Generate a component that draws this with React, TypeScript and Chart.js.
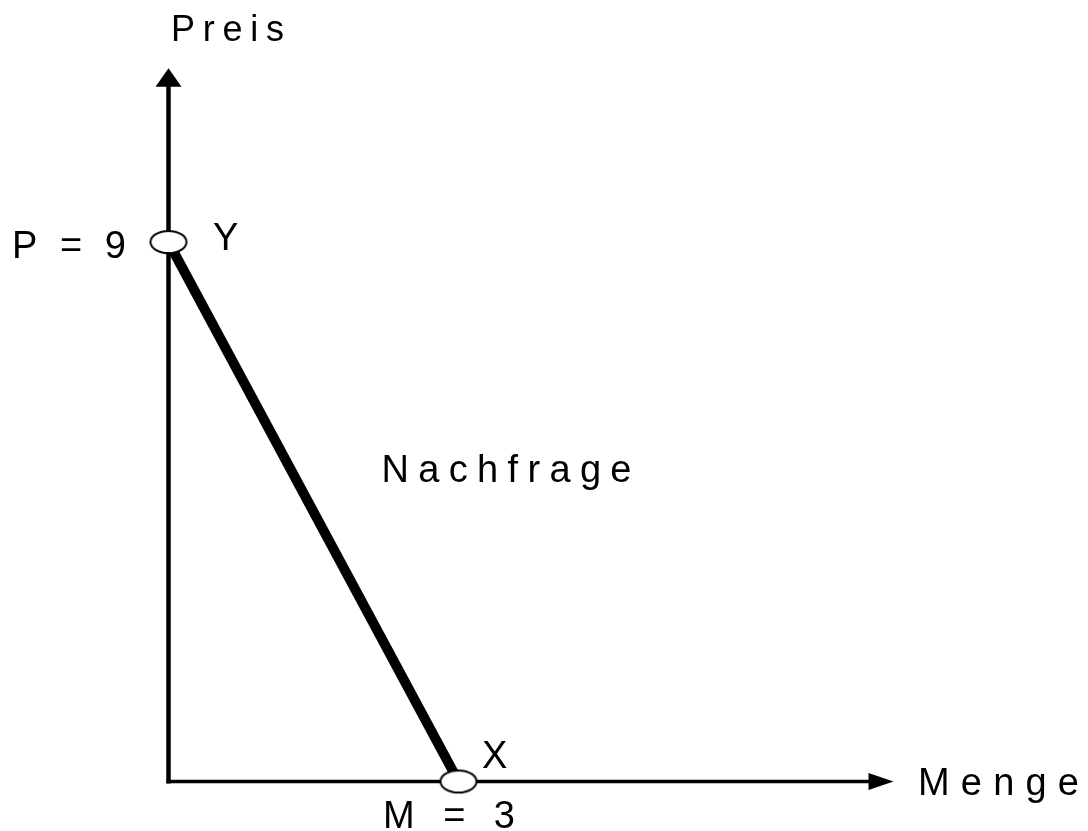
import React, { useEffect, useRef } from "react";
import { Chart, registerables } from "chart.js";

Chart.register(...registerables);

// Data: linear demand curve between two points
const quantities = [0, 3];
const prices = [9, 0];
const pointNames = ["Y", "X"];
const axisTitles = { x: "Menge", y: "Preis" };
const curveLabel = "Nachfrage";
const priceLabel = "P = 9";
const quantityLabel = "M = 3";

const X_MAX = 7.5;
const Y_MAX = 11.9;

function makeEllipse(): HTMLCanvasElement {
  const c = document.createElement("canvas");
  c.width = 40;
  c.height = 26;
  const g = c.getContext("2d")!;
  g.beginPath();
  g.ellipse(20, 13, 18, 11, 0, 0, Math.PI * 2);
  g.fillStyle = "#ffffff";
  g.fill();
  g.lineWidth = 2;
  g.strokeStyle = "#000000";
  g.stroke();
  return c;
}

function fitText(ctx: CanvasRenderingContext2D, text: string, x: number, y: number, width: number) {
  (ctx as any).letterSpacing = "0px";
  const w = ctx.measureText(text).width;
  const sp = text.length > 1 ? (width - w) / (text.length - 1) : 0;
  (ctx as any).letterSpacing = sp + "px";
  ctx.fillText(text, x, y);
  (ctx as any).letterSpacing = "0px";
}

const axesPlugin = {
  id: "arrowAxes",
  beforeDatasetsDraw(chart: any) {
    const { ctx, scales } = chart;
    const xs = scales.x;
    const ys = scales.y;
    const x0 = xs.getPixelForValue(0);
    const y0 = ys.getPixelForValue(0);
    const xEnd = xs.getPixelForValue(X_MAX);
    const yEnd = ys.getPixelForValue(Y_MAX);
    ctx.save();
    ctx.strokeStyle = "#000";
    ctx.fillStyle = "#000";
    ctx.lineCap = "butt";
    // y axis
    ctx.lineWidth = 4.5;
    ctx.beginPath();
    ctx.moveTo(x0, y0 + 2);
    ctx.lineTo(x0, yEnd + 16);
    ctx.stroke();
    ctx.beginPath();
    ctx.moveTo(x0, yEnd);
    ctx.lineTo(x0 - 13, yEnd + 18.5);
    ctx.lineTo(x0 + 13, yEnd + 18.5);
    ctx.closePath();
    ctx.fill();
    // x axis
    ctx.lineWidth = 3.5;
    ctx.beginPath();
    ctx.moveTo(x0 - 2, y0);
    ctx.lineTo(xEnd - 22, y0);
    ctx.stroke();
    ctx.beginPath();
    ctx.moveTo(xEnd, y0);
    ctx.lineTo(xEnd - 25, y0 - 8.5);
    ctx.lineTo(xEnd - 25, y0 + 8.5);
    ctx.closePath();
    ctx.fill();
    ctx.restore();
  },
  afterDraw(chart: any) {
    const { ctx, scales } = chart;
    const xs = scales.x;
    const ys = scales.y;
    const x0 = xs.getPixelForValue(0);
    const y0 = ys.getPixelForValue(0);
    const yEnd = ys.getPixelForValue(Y_MAX);
    const xEnd = xs.getPixelForValue(X_MAX);
    const pY = ys.getPixelForValue(prices[0]);
    const qX = xs.getPixelForValue(quantities[1]);
    ctx.save();
    ctx.fillStyle = "#000";
    ctx.textBaseline = "alphabetic";
    ctx.textAlign = "left";
    ctx.font = "36px 'Liberation Sans', Arial, sans-serif";
    fitText(ctx, axisTitles.y, x0 + 2.5, yEnd - 27, 113);
    ctx.font = "38px 'Liberation Sans', Arial, sans-serif";
    fitText(ctx, priceLabel, 12, pY + 15.5, 114);
    fitText(ctx, pointNames[0], x0 + 44.5, pY + 8, 24);
    fitText(ctx, curveLabel, 381.5, 481.5, 250);
    fitText(ctx, pointNames[1], qX + 23.5, y0 - 13.5, 25);
    fitText(ctx, quantityLabel, qX - 75.5, y0 + 46.5, 132);
    fitText(ctx, axisTitles.x, xEnd + 24.5, y0 + 13.5, 161);
    ctx.restore();
  },
};

export default function App() {
  const ref = useRef<HTMLCanvasElement | null>(null);
  useEffect(() => {
    document.body.style.margin = "0";
    const canvas = ref.current!;
    const ellipse = makeEllipse();
    const chart = new Chart(canvas, {
      type: "scatter",
      data: {
        datasets: [
          {
            label: curveLabel,
            data: quantities.map((q, i) => ({ x: q, y: prices[i] })),
            showLine: true,
            borderColor: "#000",
            borderWidth: 10,
            pointStyle: ellipse as any,
            pointRadius: 12,
            borderCapStyle: "butt",
            clip: false,
          } as any,
        ],
      },
      options: {
        responsive: false,
        animation: false,
        devicePixelRatio: 1,
        layout: { padding: { left: 168.5, right: 194.5, top: 68.2, bottom: 49.5 } },
        plugins: { legend: { display: false }, tooltip: { enabled: false } },
        scales: {
          x: { type: "linear", min: 0, max: X_MAX, display: false },
          y: { type: "linear", min: 0, max: Y_MAX, display: false },
        },
      },
      plugins: [axesPlugin],
    });
    return () => chart.destroy();
  }, []);
  return (
    <div style={{ width: 1088, height: 831, background: "#fff" }}>
      <canvas ref={ref} width={1088} height={831} style={{ display: "block", width: 1088, height: 831 }} />
    </div>
  );
}
